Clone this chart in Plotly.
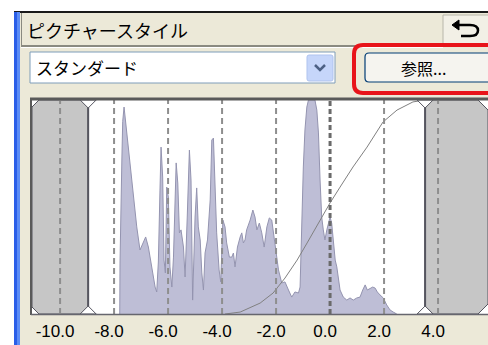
import plotly.graph_objects as go

W, H = 488, 345

# ---------------- data ----------------
hist_ev = [-7.79, -7.78, -7.71, -7.68, -7.63, -7.53, -7.41, -7.29, -7.16, -7.04, -6.91, -6.83, -6.73,
           -6.60, -6.48, -6.42, -6.36, -6.30, -6.26, -6.20, -6.15, -6.10, -6.05, -5.99, -5.93,
           -5.86, -5.80, -5.70, -5.64, -5.58, -5.52, -5.43, -5.37, -5.29, -5.21, -5.15, -5.09,
           -5.00, -4.94, -4.88, -4.81, -4.75, -4.69, -4.63, -4.54, -4.44, -4.38, -4.32, -4.26,
           -4.20, -4.11, -4.05, -3.97, -3.89, -3.83, -3.73, -3.64, -3.58, -3.52, -3.43, -3.33,
           -3.27, -3.21, -3.15, -3.09, -2.96, -2.86, -2.78, -2.71, -2.62, -2.53, -2.44, -2.34,
           -2.25, -2.16, -2.10, -2.00, -1.91, -1.79, -1.67, -1.54, -1.42, -1.30, -1.17, -1.11,
           -1.05, -0.99, -0.93, -0.86, -0.80, -0.68, -0.56, -0.49, -0.43, -0.37, -0.31, -0.25,
           -0.19, -0.12, -0.06, 0.00, 0.06, 0.12, 0.19, 0.25, 0.31, 0.37, 0.49, 0.62, 0.74,
           0.86, 0.99, 1.11, 1.21, 1.30, 1.38, 1.48, 1.58, 1.67, 1.75, 1.85, 1.97, 2.10, 2.22,
           2.34, 2.47]
hist_pct = [0, 23.8, 72.9, 90.0, 96.7, 84.6, 68.7, 54.7, 40.7, 29.9, 33.2, 36.0, 31.3,
            20.6, 12.6, 10.3, 24.3, 57.9, 78.0, 64.0, 25.2, 19.2, 59.3, 54.7, 22.0,
            12.6, 26.6, 70.6, 61.2, 37.9, 39.3, 31.3, 17.3, 45.3, 76.6, 62.6, 6.5,
            45.3, 58.9, 40.7, 34.6, 19.2, 11.2, 28.5, 34.6, 53.3, 81.3, 82.2, 64.0,
            37.9, 20.6, 15.0, 43.9, 40.7, 33.2, 26.6, 26.6, 28.5, 22.0, 31.3, 36.0,
            37.9, 33.2, 34.6, 39.3, 43.9, 48.6, 45.3, 39.3, 42.5, 37.9, 31.3, 40.7,
            44.9, 43.9, 37.9, 28.5, 20.6, 14.5, 15.0, 11.2, 7.9, 10.3, 9.8, 12.6,
            42.5, 68.7, 86.0, 96.7, 100, 100, 100, 95.3, 84.6, 62.6, 45.3, 39.3,
            34.6, 39.3, 42.5, 45.3, 42.5, 34.6, 25.2, 22.0, 15.9, 11.2, 7.9, 6.5, 7.5,
            6.5, 7.5, 7.9, 11.2, 13.6, 11.2, 12.1, 12.6, 12.1, 10.3, 8.9, 7.5, 4.2, 1.9,
            0.9, 0]

curve_ev = [-3.89, -3.33, -2.59, -2.11, -1.67, -1.22, -0.85, -0.37, 0.00, 0.37, 0.85, 1.37,
            1.96, 2.48, 3.07, 3.52]
curve_pct = [0, 0.9, 5.1, 9.8, 16.8, 25.2, 33.2, 43.9, 51.9, 59.3, 68.7, 78.0, 89.7, 95.3,
             99.1, 100]

tick_vals = [-10, -8, -6, -4, -2, 0, 2, 4]
tick_text = ["-10.0", "-8.0", "-6.0", "-4.0", "-2.0", "0.0", "2.0", "4.0"]
black_point = -8.96
white_point = 3.52
x_range = [-11.04, 5.85]
y_range = [0, 100]

title_text = "ピクチャースタイル"
style_name = "スタンダード"
button_text = "参照..."

# ---------------- layout helpers ----------------
PL, PR, PT, PB = 32, 488, 100, 314           # plot area in pixels
ev_per_px = (x_range[1] - x_range[0]) / (PR - PL)
pct_per_px = (y_range[1] - y_range[0]) / (PB - PT)


def px(x):
    return x / W


def py(y):
    return 1 - y / H


def ppath(points, close=True):
    s = "M " + " L ".join(f"{px(x):.5f},{py(y):.5f}" for x, y in points)
    return s + (" Z" if close else "")


def dpath(points):
    return "M " + " L ".join(f"{x:.4f},{y:.4f}" for x, y in points) + " Z"


def rrect(x0, y0, x1, y1, r):
    return (f"M {px(x0 + r)},{py(y0)} L {px(x1 - r)},{py(y0)} Q {px(x1)},{py(y0)} {px(x1)},{py(y0 + r)} "
            f"L {px(x1)},{py(y1 - r)} Q {px(x1)},{py(y1)} {px(x1 - r)},{py(y1)} "
            f"L {px(x0 + r)},{py(y1)} Q {px(x0)},{py(y1)} {px(x0)},{py(y1 - r)} "
            f"L {px(x0)},{py(y0 + r)} Q {px(x0)},{py(y0)} {px(x0 + r)},{py(y0)} Z")


fig = go.Figure()

fig.add_trace(go.Scatter(
    x=hist_ev, y=hist_pct, mode="lines", fill="tozeroy",
    fillcolor="rgb(190,190,214)", line=dict(color="rgb(148,148,176)", width=1),
    hoverinfo="skip", showlegend=False))

fig.add_trace(go.Scatter(
    x=curve_ev, y=curve_pct, mode="lines",
    line=dict(color="rgb(128,128,128)", width=1),
    hoverinfo="skip", showlegend=False))

shapes = []
BEIGE = "#ECE9D8"

# --- window chrome (paper, below) ---
shapes.append(dict(type="rect", xref="paper", yref="paper", x0=0, x1=px(14), y0=0, y1=1,
                   fillcolor="white", line_width=0, layer="below"))
shapes.append(dict(type="rect", xref="paper", yref="paper", x0=0, x1=1, y0=py(11), y1=1,
                   fillcolor="white", line_width=0, layer="below"))
shapes.append(dict(type="rect", xref="paper", yref="paper", x0=px(14), x1=1, y0=py(13), y1=py(11),
                   fillcolor="#1a1a1a", line_width=0, layer="below"))
shapes.append(dict(type="rect", xref="paper", yref="paper", x0=px(14), x1=px(20), y0=0, y1=py(12),
                   fillcolor="#2a5ee8", line_width=0, layer="below"))
shapes.append(dict(type="rect", xref="paper", yref="paper", x0=px(17), x1=px(20), y0=0, y1=py(12),
                   fillcolor="#5b8cf5", line_width=0, layer="below"))
# title bar borders
shapes.append(dict(type="rect", xref="paper", yref="paper", x0=px(21), x1=px(22), y0=py(46), y1=py(13),
                   fillcolor="#8a8a80", line_width=0, layer="below"))
shapes.append(dict(type="rect", xref="paper", yref="paper", x0=px(21), x1=px(443), y0=py(47), y1=py(45),
                   fillcolor="#8a8a80", line_width=0, layer="below"))
shapes.append(dict(type="rect", xref="paper", yref="paper", x0=px(21), x1=px(443), y0=py(48), y1=py(47),
                   fillcolor="white", line_width=0, layer="below"))
# undo button
shapes.append(dict(type="rect", xref="paper", yref="paper", x0=px(443), x1=px(492), y0=py(45), y1=py(15),
                   fillcolor="#F2F0E6", line=dict(color="#B8B6AA", width=1), layer="below"))
shapes.append(dict(type="path", xref="paper", yref="paper",
                   path=ppath([(456, 25), (470, 25)], close=False) +
                   f" Q {px(478)},{py(25)} {px(478)},{py(30.5)} Q {px(478)},{py(36)} {px(470)},{py(36)} L {px(461)},{py(36)}",
                   line=dict(color="black", width=2.5), layer="above"))
shapes.append(dict(type="path", xref="paper", yref="paper",
                   path=ppath([(452, 25), (459, 20), (459, 30)]),
                   fillcolor="black", line=dict(color="black", width=1), layer="above"))
# dropdown
shapes.append(dict(type="rect", xref="paper", yref="paper", x0=px(30), x1=px(335), y0=py(83), y1=py(52),
                   fillcolor="white", line=dict(color="#7F9DB9", width=1), layer="below"))
shapes.append(dict(type="path", xref="paper", yref="paper", path=rrect(307, 55, 333, 81, 2),
                   fillcolor="#C6D6FA", line=dict(color="#AFC3EE", width=1), layer="below"))
shapes.append(dict(type="path", xref="paper", yref="paper",
                   path=ppath([(315, 65), (320, 70), (325, 65)], close=False),
                   line=dict(color="#4D6185", width=2.5), layer="above"))
# reference button + red highlight
shapes.append(dict(type="path", xref="paper", yref="paper", path=rrect(365, 53, 500, 82, 4),
                   fillcolor="#F5F4EF", line=dict(color="#003C74", width=1.2), layer="below"))
shapes.append(dict(type="path", xref="paper", yref="paper", path=rrect(354, 45, 505, 93, 9),
                   fillcolor="rgba(0,0,0,0)", line=dict(color="#E8141A", width=4), layer="above"))

# --- plot area background ---
shapes.append(dict(type="rect", xref="x domain", yref="y domain", x0=0, x1=1, y0=0, y1=1,
                   fillcolor="white", line_width=0, layer="below"))

# --- clipping regions (data coords) ---
dx, dy = 7 * ev_per_px, 7 * pct_per_px
x0, x1 = x_range
GRAY = "#C6C6C6"
EDGE = "#55555F"
shapes.append(dict(type="path", xref="x", yref="y",
                   path=dpath([(x0, 100 - dy), (x0 + dx, 100), (black_point - dx, 100), (black_point, 100 - dy),
                               (black_point, dy), (black_point - dx, 0), (x0 + dx, 0), (x0, dy)]),
                   fillcolor=GRAY, line=dict(color=EDGE, width=1), layer="above"))
rdx = 10 * ev_per_px
rdy = 10 * pct_per_px
shapes.append(dict(type="path", xref="x", yref="y",
                   path=dpath([(white_point, 100 - dy), (white_point + dx, 100), (x1 - rdx, 100), (x1, 100 - rdy),
                               (x1, rdy), (x1 - rdx, 0), (white_point + dx, 0), (white_point, dy)]),
                   fillcolor=GRAY, line=dict(color=EDGE, width=1), layer="above"))

# dashed guide lines
for v in tick_vals:
    zero = (v == 0)
    shapes.append(dict(type="line", xref="x", yref="y domain", x0=v, x1=v, y0=0, y1=1,
                       line=dict(color="#6A6A6A" if zero else "#8E8E8E", width=3 if zero else 2,
                                 dash="5px,3px" if zero else "6px,4px"),
                       layer="above"))

# boundary lines + handles
hw, hh = 8 * ev_per_px, 8 * pct_per_px
for bx in (black_point, white_point):
    shapes.append(dict(type="line", xref="x", yref="y", x0=bx, x1=bx, y0=0, y1=100,
                       line=dict(color=EDGE, width=2), layer="above"))
    shapes.append(dict(type="path", xref="x", yref="y",
                       path=dpath([(bx - hw, 100), (bx + hw, 100), (bx, 100 - hh)]),
                       fillcolor="white", line=dict(color=EDGE, width=1), layer="above"))
    shapes.append(dict(type="path", xref="x", yref="y",
                       path=dpath([(bx - hw, 0), (bx + hw, 0), (bx, hh)]),
                       fillcolor="white", line=dict(color=EDGE, width=1), layer="above"))

# plot frame
shapes.append(dict(type="line", xref="paper", yref="paper", x0=px(30), x1=1, y0=py(99), y1=py(99),
                   line=dict(color="#5A5A5A", width=3), layer="above"))
shapes.append(dict(type="line", xref="paper", yref="paper", x0=px(31), x1=px(31), y0=py(315), y1=py(98),
                   line=dict(color="#5A5A5A", width=2), layer="above"))
shapes.append(dict(type="line", xref="paper", yref="paper", x0=px(31), x1=1, y0=py(314.5), y1=py(314.5),
                   line=dict(color="#66666E", width=1.5), layer="above"))

annotations = [
    dict(text=title_text, xref="paper", yref="paper", x=px(25), y=py(30), xanchor="left", yanchor="middle",
         showarrow=False, font=dict(family="Noto Sans CJK JP", size=18, color="black")),
    dict(text=style_name, xref="paper", yref="paper", x=px(34), y=py(67.5), xanchor="left", yanchor="middle",
         showarrow=False, font=dict(family="Noto Sans CJK JP", size=17, color="black")),
    dict(text=button_text, xref="paper", yref="paper", x=px(423), y=py(67.5), xanchor="center", yanchor="middle",
         showarrow=False, font=dict(family="Noto Sans CJK JP", size=16, color="black")),
]

fig.update_layout(
    width=W, height=H,
    margin=dict(l=0, r=0, t=0, b=0, pad=0),
    paper_bgcolor=BEIGE, plot_bgcolor="rgba(0,0,0,0)",
    shapes=shapes, annotations=annotations, showlegend=False,
    xaxis=dict(domain=[PL / W, 1], range=x_range, showgrid=False, zeroline=False, showline=False,
               tickmode="array", tickvals=tick_vals, ticktext=tick_text, ticks="",
               tickfont=dict(family="Liberation Sans", size=17, color="black"),
               ticklabelshift=-5, ticklabelstandoff=5, fixedrange=True),
    yaxis=dict(domain=[1 - PB / H, 1 - PT / H], range=y_range, showgrid=False, zeroline=False,
               showline=False, showticklabels=False, ticks="", fixedrange=True),
)

fig.write_html("out.html", config={"displayModeBar": False},
               post_script="document.body.style.margin='0';document.body.style.padding='0';")
